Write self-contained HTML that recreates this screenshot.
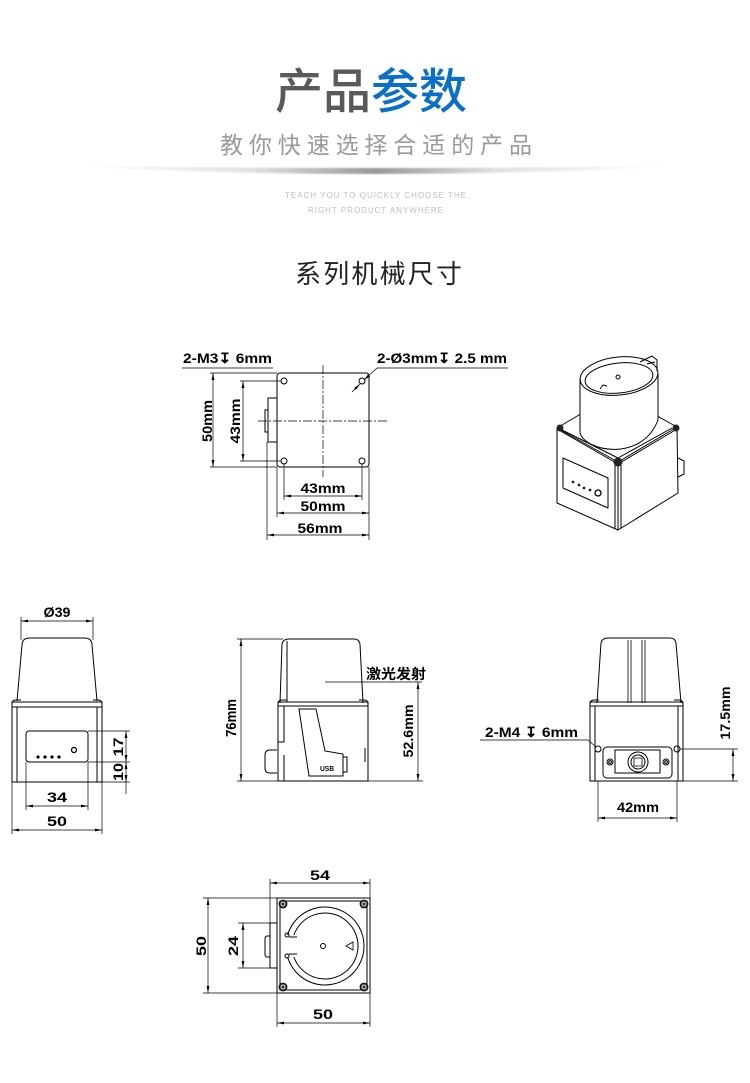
<!DOCTYPE html>
<html><head><meta charset="utf-8">
<style>
html,body{margin:0;padding:0;background:#fff;}
svg{display:block;}
.d{font-family:"Liberation Sans","Noto Sans CJK SC",sans-serif;font-weight:bold;font-size:14px;fill:#000;}
</style></head>
<body>
<svg width="750" height="1083" viewBox="0 0 750 1083" xmlns="http://www.w3.org/2000/svg">
<defs>
<marker id="ar" viewBox="0 0 10 4" refX="10" refY="2" markerWidth="7" markerHeight="2.8" markerUnits="userSpaceOnUse" orient="auto-start-reverse"><path d="M0,0L10,2L0,4z" fill="#000"/></marker>
<linearGradient id="hg" x1="0" x2="1" y1="0" y2="0">
<stop offset="0" stop-color="#000" stop-opacity="0"/>
<stop offset="0.3" stop-color="#000" stop-opacity="0.12"/>
<stop offset="0.5" stop-color="#000" stop-opacity="0.4"/>
<stop offset="0.7" stop-color="#000" stop-opacity="0.12"/>
<stop offset="1" stop-color="#000" stop-opacity="0"/>
</linearGradient>
<filter id="bl"><feGaussianBlur stdDeviation="0.8"/></filter>
</defs>

<!-- HEADER -->
<text x="371" y="108" text-anchor="middle" font-family="'Liberation Sans','Noto Sans CJK SC',sans-serif" font-size="48" font-weight="500"><tspan fill="#5a5a5a">产品</tspan><tspan fill="#0b6fc6">参数</tspan></text>
<text x="220" y="153" textLength="312" lengthAdjust="spacing" font-family="'Liberation Sans','Noto Sans CJK SC',sans-serif" font-size="23" fill="#9a9a9a">教你快速选择合适的产品</text>
<path d="M70,166 Q375,182 680,166 Q375,170 70,166Z" fill="url(#hg)" filter="url(#bl)"/>
<text x="285" y="198" textLength="181" lengthAdjust="spacing" font-family="'Liberation Sans',sans-serif" font-size="8" fill="#bdbdbd">TEACH YOU TO QUICKLY CHOOSE THE</text>
<text x="308" y="213" textLength="135" lengthAdjust="spacing" font-family="'Liberation Sans',sans-serif" font-size="8" fill="#bdbdbd">RIGHT PRODUCT ANYWHERE</text>
<text x="295" y="283" textLength="167" lengthAdjust="spacing" font-family="'Liberation Sans','Noto Sans CJK SC',sans-serif" font-size="26" fill="#222">系列机械尺寸</text>

<!-- TOP VIEW -->
<g stroke="#000" fill="none" stroke-width="1">
<rect x="277" y="373" width="92" height="94" rx="3"/>
<path d="M277,398 H268 V442 H277"/>
<path d="M268,410 H265 V432 H268"/>
<circle cx="284" cy="381" r="3"/>
<circle cx="284" cy="461" r="3"/>
<circle cx="362" cy="461" r="3"/>
<circle cx="362" cy="381" r="3"/>
</g>
<g stroke="#000" fill="none" stroke-width="0.7">
<path d="M210,373H277 M210,467H277 M240,381H281 M240,461H281 M284,464V500 M362,464V500 M277,467V517 M267,442V540 M369,467V540"/>
<path d="M323,365V477 M258,421H387" stroke-dasharray="9,2,2,2"/>
<path d="M182,368H273"/>
<path d="M508,368H377L364,380" marker-end="url(#ar)"/>
<path d="M352,392L360,384" marker-end="url(#ar)"/>
<line x1="213" y1="373" x2="213" y2="467" marker-start="url(#ar)" marker-end="url(#ar)"/>
<line x1="243" y1="381" x2="243" y2="461" marker-start="url(#ar)" marker-end="url(#ar)"/>
<line x1="284" y1="496" x2="362" y2="496" marker-start="url(#ar)" marker-end="url(#ar)"/>
<line x1="277" y1="513" x2="369" y2="513" marker-start="url(#ar)" marker-end="url(#ar)"/>
<line x1="267" y1="535" x2="369" y2="535" marker-start="url(#ar)" marker-end="url(#ar)"/>
</g>
<text class="d" x="183" y="363" textLength="89" lengthAdjust="spacingAndGlyphs">2-M3↧ 6mm</text>
<text class="d" x="377" y="363" textLength="130" lengthAdjust="spacingAndGlyphs">2-Ø3mm↧ 2.5 mm</text>
<text class="d" transform="translate(212,421) rotate(-90)" text-anchor="middle" textLength="42" lengthAdjust="spacingAndGlyphs">50mm</text>
<text class="d" transform="translate(240,421) rotate(-90)" text-anchor="middle" textLength="45" lengthAdjust="spacingAndGlyphs">43mm</text>
<text class="d" x="323" y="493" text-anchor="middle" textLength="45" lengthAdjust="spacingAndGlyphs">43mm</text>
<text class="d" x="323" y="511" text-anchor="middle" textLength="45" lengthAdjust="spacingAndGlyphs">50mm</text>
<text class="d" x="320" y="533" text-anchor="middle" textLength="45" lengthAdjust="spacingAndGlyphs">56mm</text>

<!-- 3D VIEW -->
<g stroke="#000" stroke-width="1" fill="#fff" stroke-linejoin="round">
<path d="M618,464 L677,429 L678,493 L618,530 Z"/>
<path d="M557,429 L618,464 L618,530 L557,503 Z"/>
<path d="M557,428 L616,393 L677,427 L618,462 Z"/>
<path d="M562,430 L618,458 L672,428" fill="none"/>
<path d="M615,465 V529 M621,465 V528" fill="none"/>
<path d="M580,378 V433 C586,452 642,462 658,420 V374"/>
<ellipse cx="619" cy="376" rx="39" ry="19" transform="rotate(-6 619 376)"/>
<ellipse cx="619" cy="378" rx="34" ry="15" transform="rotate(-6 619 378)" fill="none"/>
<path d="M640,362 L652,356 L657,360 L657,371" fill="none"/>
<path d="M647,364 L655,362" fill="none"/>
<circle cx="618" cy="377" r="2" fill="none"/>
<path d="M600,389 L603,385 L607,386" fill="none"/>
<path d="M563,458 L608,478 L608,508 L563,488 Z"/>
<path d="M678,458 L684,461 L684,474 L678,477" fill="none"/>
</g>
<g fill="#222">
<circle cx="560" cy="428" r="3.5"/>
<circle cx="618" cy="462" r="4.5"/>
<circle cx="676" cy="428" r="3.5"/>
<circle cx="573" cy="482" r="1.4"/>
<circle cx="579" cy="485" r="1.4"/>
<circle cx="584" cy="488" r="1.4"/>
<circle cx="590" cy="490" r="1.4"/>
</g>
<circle cx="598" cy="493" r="3" fill="none" stroke="#000" stroke-width="1.3"/>

<!-- FRONT VIEW (left) -->
<g stroke="#000" fill="none" stroke-width="1">
<path d="M17,701 L22,645 Q22,638 30,638 H84 Q92,638 92,645 L97,701"/>
<rect x="12" y="702" width="90" height="80"/>
<path d="M12,707 H102 M17,707 V782 M97,707 V782"/>
<path d="M12,708 V704 Q12,700 16,700 H21 M102,708 V704 Q102,700 98,700 H93"/>
<rect x="26" y="731" width="62" height="31" rx="3"/>
<circle cx="74" cy="750" r="2.5" stroke-width="1.3"/>
</g>
<g fill="#000">
<circle cx="38" cy="757" r="1.6"/><circle cx="45" cy="757" r="1.6"/><circle cx="52" cy="757" r="1.6"/><circle cx="59" cy="757" r="1.6"/>
</g>
<g stroke="#000" fill="none" stroke-width="0.7">
<path d="M21,617V640 M93,617V640 M88,731H130 M88,762H130 M102,782H130 M126,782V794 M26,762V810 M88,762V810 M12,782V834 M102,782V834"/>
<line x1="21" y1="621" x2="93" y2="621" marker-start="url(#ar)" marker-end="url(#ar)"/>
<line x1="126" y1="731" x2="126" y2="762" marker-start="url(#ar)" marker-end="url(#ar)"/>
<line x1="126" y1="762" x2="126" y2="782" marker-start="url(#ar)" marker-end="url(#ar)"/>
<line x1="26" y1="806" x2="88" y2="806" marker-start="url(#ar)" marker-end="url(#ar)"/>
<line x1="12" y1="830" x2="102" y2="830" marker-start="url(#ar)" marker-end="url(#ar)"/>
</g>
<text class="d" x="57" y="617" text-anchor="middle" textLength="27" lengthAdjust="spacingAndGlyphs">Ø39</text>
<text class="d" transform="translate(123,747) rotate(-90)" text-anchor="middle" textLength="19" lengthAdjust="spacingAndGlyphs">17</text>
<text class="d" transform="translate(123,772) rotate(-90)" text-anchor="middle" textLength="18" lengthAdjust="spacingAndGlyphs">10</text>
<text class="d" x="57" y="802" text-anchor="middle" textLength="20" lengthAdjust="spacingAndGlyphs">34</text>
<text class="d" x="57" y="826" text-anchor="middle" textLength="20" lengthAdjust="spacingAndGlyphs">50</text>

<!-- SIDE VIEW (middle) -->
<g stroke="#000" fill="none" stroke-width="1">
<path d="M280,703 L282,644 Q283,639 289,639 H354 Q359,639 360,644 L363,703"/>
<path d="M287,641 V702"/>
<rect x="278" y="702" width="90" height="79"/>
<path d="M278,706 H368"/>
<path d="M278,707 V704 Q278,700 282,700 H287 M368,707 V704 Q368,700 364,700 H359"/>
<path d="M284,706 V742 H278 M284,755 V781"/>
<path d="M277,750 H270 Q265,750 265,755 V768 Q265,773 270,773 H277"/>
<path d="M299,709 L316,709 L325,751 L343,754 L343,776 L309,776 Z"/>
<path d="M343,757 H347 V772 H343"/>
<path d="M365,748 V762"/>
</g>
<text x="327" y="771" text-anchor="middle" font-family="'Liberation Sans',sans-serif" font-weight="bold" font-size="7" textLength="14" lengthAdjust="spacingAndGlyphs">USB</text>
<g stroke="#000" fill="none" stroke-width="0.7">
<path d="M237,639H283 M237,781H278 M368,781H423 M325,682H422"/>
<line x1="241" y1="639" x2="241" y2="781" marker-start="url(#ar)" marker-end="url(#ar)"/>
<line x1="418" y1="682" x2="418" y2="781" marker-start="url(#ar)" marker-end="url(#ar)"/>
</g>
<text class="d" style="font-size:15px" transform="translate(236,718) rotate(-90)" text-anchor="middle" textLength="38" lengthAdjust="spacingAndGlyphs">76mm</text>
<text class="d" transform="translate(413,731) rotate(-90)" text-anchor="middle" textLength="53" lengthAdjust="spacingAndGlyphs">52.6mm</text>
<text class="d" x="366" y="679" textLength="60" lengthAdjust="spacingAndGlyphs">激光发射</text>

<!-- REAR VIEW (right) -->
<g stroke="#000" fill="none" stroke-width="1">
<path d="M597,703 L601,643 Q602,638 608,638 H670 Q675,638 676,643 L681,703"/>
<path d="M628,640V703 M631,640V703 M642,640V703 M645,640V703" stroke-width="0.8"/>
<rect x="590" y="702" width="93" height="79"/>
<path d="M590,706 H683 M595,706 V781 M678,706 V781"/>
<path d="M590,707 V704 Q590,700 594,700 H599 M683,707 V704 Q683,700 679,700 H674"/>
<rect x="603" y="747" width="69" height="31" rx="4"/>
<rect x="615" y="750" width="45" height="23"/>
<circle cx="638" cy="762" r="10"/>
<circle cx="638" cy="762" r="7"/>
<path d="M634,758 H642 V766 H634Z" stroke-width="0.8"/>
<circle cx="610" cy="762" r="3"/><circle cx="610" cy="762" r="1.4"/>
<circle cx="666" cy="762" r="3"/><circle cx="666" cy="762" r="1.4"/>
<circle cx="598" cy="749" r="3"/>
<circle cx="677" cy="749" r="3"/>
</g>
<g stroke="#000" fill="none" stroke-width="0.7">
<path d="M480,740 H588 L596,747"/>
<path d="M680,749H738 M683,781H738 M598,781V822 M677,781V822"/>
<line x1="733" y1="749" x2="733" y2="781" marker-start="url(#ar)" marker-end="url(#ar)"/>
<line x1="598" y1="818" x2="677" y2="818" marker-start="url(#ar)" marker-end="url(#ar)"/>
</g>
<text class="d" x="485" y="737" textLength="93" lengthAdjust="spacingAndGlyphs">2-M4 ↧ 6mm</text>
<text class="d" transform="translate(730,713) rotate(-90)" text-anchor="middle" textLength="53" lengthAdjust="spacingAndGlyphs">17.5mm</text>
<text class="d" x="638" y="812" text-anchor="middle" textLength="42" lengthAdjust="spacingAndGlyphs">42mm</text>

<!-- BOTTOM VIEW -->
<g stroke="#000" fill="none" stroke-width="1">
<rect x="277" y="898" width="93" height="95"/>
<rect x="280" y="901" width="87" height="89"/>
<path d="M277,923 H270 V968 H277"/>
<path d="M270,936 H267 Q265,936 265,939 V954 Q265,957 267,957 H270"/>
<path d="M287.6,935 A39,39 0 1,1 287.6,957"/>
<path d="M293.9,935 A33,33 0 1,1 293.9,957"/>
<circle cx="287" cy="935" r="2"/>
<circle cx="287" cy="956" r="2"/>
<path d="M289,937 H297 M289,954 H297"/>
<circle cx="323" cy="946" r="2.5"/>
<path d="M346,946 L353,942 L353,950 Z" stroke-width="0.8"/>
</g>
<g fill="#333" stroke="#000" stroke-width="0.8">
<circle cx="283" cy="904" r="4"/><circle cx="364" cy="904" r="4"/>
<circle cx="283" cy="987" r="4"/><circle cx="364" cy="987" r="4"/>
</g>
<g fill="none" stroke="#fff" stroke-width="0.8">
<circle cx="283" cy="904" r="2"/><circle cx="364" cy="904" r="2"/>
<circle cx="283" cy="987" r="2"/><circle cx="364" cy="987" r="2"/>
</g>
<g stroke="#000" fill="none" stroke-width="0.7">
<path d="M270,879V923 M370,879V898 M203,898H277 M203,993H277 M238,923H270 M238,968H270 M277,993V1027 M370,993V1027"/>
<line x1="270" y1="883" x2="370" y2="883" marker-start="url(#ar)" marker-end="url(#ar)"/>
<line x1="208" y1="898" x2="208" y2="993" marker-start="url(#ar)" marker-end="url(#ar)"/>
<line x1="243" y1="923" x2="243" y2="968" marker-start="url(#ar)" marker-end="url(#ar)"/>
<line x1="277" y1="1023" x2="370" y2="1023" marker-start="url(#ar)" marker-end="url(#ar)"/>
</g>
<text class="d" x="320" y="880" text-anchor="middle" textLength="20" lengthAdjust="spacingAndGlyphs">54</text>
<text class="d" transform="translate(206,946) rotate(-90)" text-anchor="middle" textLength="20" lengthAdjust="spacingAndGlyphs">50</text>
<text class="d" transform="translate(238,946) rotate(-90)" text-anchor="middle" textLength="20" lengthAdjust="spacingAndGlyphs">24</text>
<text class="d" x="323" y="1019" text-anchor="middle" textLength="20" lengthAdjust="spacingAndGlyphs">50</text>
</svg>
</body></html>
